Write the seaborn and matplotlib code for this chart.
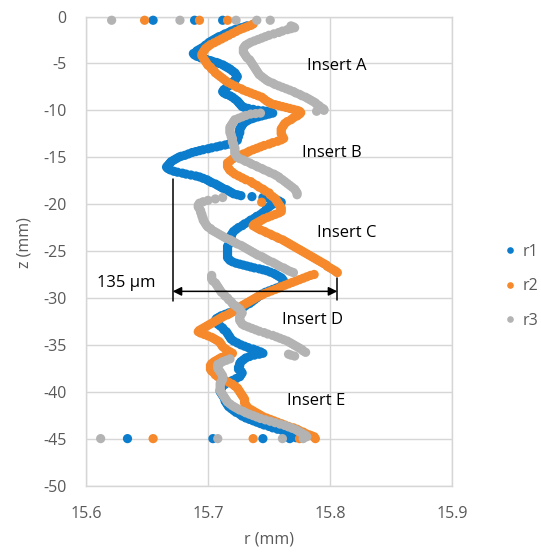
import matplotlib
matplotlib.use("Agg")
import matplotlib.pyplot as plt
import pandas as pd
import seaborn as sns

# Measured radius profiles along the bore: (z in mm, r in mm)
r1_profile = [
    (-0.4, 15.655), (-0.4, 15.689), (-0.4, 15.712),
    (-1.0, 15.732), (-1.1, 15.730), (-1.2, 15.727), (-1.3, 15.724), (-1.4, 15.722),
    (-1.55, 15.719), (-1.7, 15.717), (-1.85, 15.714), (-2.0, 15.712), (-2.15, 15.709),
    (-2.3, 15.707), (-2.45, 15.705), (-2.6, 15.703), (-2.75, 15.701), (-2.9, 15.700),
    (-3.05, 15.698), (-3.2, 15.697), (-3.35, 15.695), (-3.5, 15.693), (-3.65, 15.691),
    (-3.8, 15.690), (-3.95, 15.688), (-4.1, 15.689), (-4.25, 15.691), (-4.4, 15.694),
    (-4.5, 15.697), (-4.6, 15.699), (-4.7, 15.702), (-4.8, 15.704), (-4.9, 15.707),
    (-5.0, 15.709), (-5.15, 15.712), (-5.3, 15.714), (-5.45, 15.716), (-5.6, 15.718),
    (-5.8, 15.720), (-6.0, 15.722), (-6.2, 15.723), (-6.4, 15.724), (-6.6, 15.723),
    (-6.8, 15.722), (-7.0, 15.720), (-7.2, 15.719), (-7.4, 15.717), (-7.6, 15.715),
    (-7.8, 15.713), (-8.0, 15.712), (-8.15, 15.713), (-8.3, 15.715), (-8.45, 15.718),
    (-8.6, 15.720), (-8.8, 15.722), (-9.0, 15.724), (-9.15, 15.725), (-9.3, 15.726),
    (-9.45, 15.727), (-9.6, 15.728), (-9.7, 15.730), (-9.8, 15.733), (-9.9, 15.737),
    (-10.0, 15.741), (-10.05, 15.745), (-10.1, 15.748), (-10.2, 15.751), (-10.3, 15.753),
    (-10.4, 15.750), (-10.5, 15.747), (-10.6, 15.744), (-10.7, 15.741), (-10.8, 15.738),
    (-10.9, 15.736), (-11.05, 15.733), (-11.2, 15.731), (-11.4, 15.729), (-11.6, 15.728),
    (-11.8, 15.727), (-12.0, 15.726), (-12.2, 15.726), (-12.4, 15.726), (-12.6, 15.725),
    (-12.8, 15.725), (-13.0, 15.724), (-13.2, 15.724), (-13.35, 15.722), (-13.5, 15.720),
    (-13.6, 15.717), (-13.7, 15.714), (-13.8, 15.710), (-13.9, 15.707), (-14.0, 15.703),
    (-14.1, 15.700), (-14.2, 15.696), (-14.3, 15.693), (-14.4, 15.690), (-14.5, 15.687),
    (-14.65, 15.684), (-14.8, 15.681), (-14.9, 15.678), (-15.0, 15.676), (-15.15, 15.674),
    (-15.3, 15.672), (-15.45, 15.670), (-15.6, 15.669), (-15.75, 15.668), (-15.9, 15.667),
    (-16.05, 15.666), (-16.2, 15.667), (-16.35, 15.669), (-16.5, 15.672), (-16.6, 15.675),
    (-16.7, 15.679), (-16.8, 15.682), (-16.9, 15.686), (-17.0, 15.690), (-17.1, 15.693),
    (-17.25, 15.696), (-17.4, 15.699), (-17.55, 15.701), (-17.7, 15.703), (-17.85, 15.706),
    (-18.0, 15.708), (-18.15, 15.710), (-18.3, 15.712), (-18.45, 15.715), (-18.6, 15.717),
    (-18.75, 15.719), (-18.9, 15.721), (-19.0, 15.724), (-19.1, 15.727), (-19.2, 15.736),
    (-19.3, 15.745), (-19.4, 15.750), (-19.5, 15.755), (-19.65, 15.758), (-19.8, 15.760),
    (-19.95, 15.756), (-20.1, 15.752), (-20.3, 15.750), (-20.5, 15.748), (-20.7, 15.747),
    (-20.9, 15.745), (-21.1, 15.743), (-21.3, 15.740), (-21.5, 15.738), (-21.7, 15.735),
    (-21.9, 15.733), (-22.1, 15.730), (-22.3, 15.728), (-22.5, 15.725), (-22.7, 15.723),
    (-22.9, 15.721), (-23.1, 15.720), (-23.3, 15.719), (-23.5, 15.719), (-23.7, 15.718),
    (-23.9, 15.718), (-24.1, 15.718), (-24.3, 15.717), (-24.5, 15.716), (-24.7, 15.716),
    (-24.9, 15.716), (-25.1, 15.716), (-25.3, 15.716), (-25.5, 15.716), (-25.7, 15.716),
    (-25.85, 15.717), (-26.0, 15.718), (-26.15, 15.720), (-26.3, 15.723), (-26.4, 15.726),
    (-26.5, 15.729), (-26.6, 15.732), (-26.7, 15.735), (-26.8, 15.738), (-26.9, 15.742),
    (-27.0, 15.745), (-27.1, 15.748), (-27.25, 15.751), (-27.4, 15.754), (-27.55, 15.756),
    (-27.7, 15.758), (-27.85, 15.760), (-28.0, 15.761), (-28.2, 15.762), (-28.4, 15.763),
    (-28.6, 15.761), (-28.8, 15.759), (-28.95, 15.756), (-29.1, 15.753), (-29.25, 15.750),
    (-29.4, 15.747), (-29.6, 15.744), (-29.8, 15.742), (-30.0, 15.740), (-30.2, 15.738),
    (-30.4, 15.736), (-30.6, 15.734), (-30.8, 15.731), (-31.0, 15.729), (-31.15, 15.726),
    (-31.3, 15.723), (-31.45, 15.720), (-31.6, 15.717), (-31.75, 15.714), (-31.9, 15.711),
    (-32.05, 15.709), (-32.2, 15.707), (-32.4, 15.706), (-32.6, 15.706), (-32.8, 15.708),
    (-33.0, 15.710), (-33.2, 15.712), (-33.4, 15.713), (-33.6, 15.715), (-33.8, 15.716),
    (-34.0, 15.717), (-34.2, 15.718), (-34.4, 15.719), (-34.6, 15.721), (-34.8, 15.724),
    (-35.0, 15.727), (-35.15, 15.730), (-35.3, 15.733), (-35.45, 15.737), (-35.6, 15.740),
    (-35.75, 15.743), (-35.9, 15.745), (-36.0, 15.742), (-36.1, 15.738), (-36.25, 15.734),
    (-36.4, 15.731), (-36.6, 15.729), (-36.8, 15.727), (-37.0, 15.726), (-37.2, 15.726),
    (-37.4, 15.725), (-37.6, 15.725), (-37.8, 15.727), (-38.0, 15.728), (-38.2, 15.727),
    (-38.4, 15.726), (-38.6, 15.723), (-38.8, 15.720), (-39.0, 15.717), (-39.2, 15.714),
    (-39.4, 15.712), (-39.6, 15.711), (-39.8, 15.710), (-40.0, 15.710), (-40.2, 15.711),
    (-40.4, 15.712), (-40.6, 15.713), (-40.8, 15.714), (-41.0, 15.714), (-41.2, 15.715),
    (-41.4, 15.716), (-41.6, 15.717), (-41.8, 15.719), (-42.0, 15.721), (-42.2, 15.723),
    (-42.4, 15.726), (-42.6, 15.728), (-42.8, 15.731), (-42.95, 15.734), (-43.1, 15.737),
    (-43.25, 15.740), (-43.4, 15.743), (-43.55, 15.746), (-43.7, 15.750), (-43.85, 15.753),
    (-44.0, 15.757), (-44.15, 15.761), (-44.3, 15.764), (-44.45, 15.767), (-44.6, 15.769),
    (-44.75, 15.771), (-44.9, 15.772),
    (-45.0, 15.634), (-45.0, 15.704), (-45.0, 15.745), (-45.0, 15.767),
]

r2_profile = [
    (-0.4, 15.648), (-0.4, 15.693), (-0.4, 15.716),
    (-0.8, 15.737), (-0.95, 15.735), (-1.1, 15.732), (-1.25, 15.729), (-1.4, 15.726),
    (-1.6, 15.723), (-1.8, 15.720), (-2.0, 15.717), (-2.2, 15.714), (-2.4, 15.711),
    (-2.6, 15.708), (-2.8, 15.705), (-3.0, 15.702), (-3.2, 15.700), (-3.4, 15.698),
    (-3.6, 15.697), (-3.8, 15.696), (-4.0, 15.695), (-4.2, 15.695), (-4.4, 15.696),
    (-4.6, 15.697), (-4.8, 15.698), (-5.0, 15.699), (-5.2, 15.700), (-5.4, 15.702),
    (-5.6, 15.703), (-5.8, 15.705), (-6.0, 15.706), (-6.2, 15.708), (-6.4, 15.710),
    (-6.6, 15.712), (-6.8, 15.714), (-7.0, 15.716), (-7.2, 15.719), (-7.4, 15.722),
    (-7.55, 15.724), (-7.7, 15.727), (-7.85, 15.729), (-8.0, 15.732), (-8.15, 15.735),
    (-8.3, 15.738), (-8.45, 15.741), (-8.6, 15.744), (-8.8, 15.746), (-9.0, 15.748),
    (-9.15, 15.750), (-9.3, 15.752), (-9.4, 15.755), (-9.5, 15.758), (-9.6, 15.761),
    (-9.7, 15.764), (-9.8, 15.767), (-9.9, 15.770), (-10.0, 15.773), (-10.1, 15.775),
    (-10.25, 15.776), (-10.4, 15.775), (-10.6, 15.773), (-10.8, 15.770), (-11.0, 15.768),
    (-11.2, 15.765), (-11.4, 15.763), (-11.6, 15.762), (-11.8, 15.761), (-12.0, 15.760),
    (-12.25, 15.760), (-12.5, 15.760), (-12.75, 15.761), (-13.0, 15.762), (-13.15, 15.760),
    (-13.3, 15.757), (-13.45, 15.753), (-13.6, 15.750), (-13.75, 15.746), (-13.9, 15.743),
    (-14.05, 15.740), (-14.2, 15.737), (-14.35, 15.734), (-14.5, 15.732), (-14.65, 15.729),
    (-14.8, 15.726), (-15.0, 15.723), (-15.2, 15.720), (-15.4, 15.718), (-15.6, 15.716),
    (-15.8, 15.716), (-16.0, 15.716), (-16.2, 15.717), (-16.4, 15.718), (-16.6, 15.720),
    (-16.8, 15.722), (-17.0, 15.725), (-17.2, 15.728), (-17.4, 15.731), (-17.6, 15.735),
    (-17.8, 15.737), (-18.0, 15.740), (-18.2, 15.742), (-18.4, 15.745), (-18.6, 15.747),
    (-18.8, 15.750), (-19.0, 15.751), (-19.2, 15.753), (-19.4, 15.755), (-19.6, 15.756),
    (-19.8, 15.744), (-19.8, 15.757), (-20.0, 15.758), (-20.2, 15.759), (-20.4, 15.760),
    (-20.6, 15.760), (-20.8, 15.760), (-20.95, 15.758), (-21.1, 15.755), (-21.25, 15.752),
    (-21.4, 15.749), (-21.55, 15.746), (-21.7, 15.744), (-21.85, 15.742), (-22.0, 15.740),
    (-22.15, 15.738), (-22.3, 15.737), (-22.45, 15.739), (-22.6, 15.741), (-22.75, 15.743),
    (-22.9, 15.746), (-23.05, 15.748), (-23.2, 15.751), (-23.35, 15.753), (-23.5, 15.756),
    (-23.65, 15.758), (-23.8, 15.761), (-23.95, 15.763), (-24.1, 15.765), (-24.25, 15.767),
    (-24.4, 15.769), (-24.55, 15.771), (-24.7, 15.773), (-24.85, 15.775), (-25.0, 15.777),
    (-25.15, 15.779), (-25.3, 15.781), (-25.45, 15.783), (-25.6, 15.785), (-25.75, 15.787),
    (-25.9, 15.789), (-26.05, 15.791), (-26.2, 15.793), (-26.35, 15.795), (-26.5, 15.797),
    (-26.65, 15.798), (-26.8, 15.800), (-26.95, 15.802), (-27.1, 15.804), (-27.2, 15.805),
    (-27.3, 15.806), (-27.5, 15.787), (-27.6, 15.784), (-27.75, 15.781), (-27.9, 15.778),
    (-28.05, 15.775), (-28.2, 15.772), (-28.35, 15.769), (-28.5, 15.766), (-28.65, 15.763),
    (-28.8, 15.760), (-28.95, 15.758), (-29.1, 15.755), (-29.25, 15.752), (-29.4, 15.749),
    (-29.55, 15.746), (-29.7, 15.744), (-29.85, 15.741), (-30.0, 15.739), (-30.15, 15.737),
    (-30.3, 15.735), (-30.45, 15.733), (-30.6, 15.731), (-30.75, 15.729), (-30.9, 15.727),
    (-31.05, 15.726), (-31.2, 15.724), (-31.35, 15.722), (-31.5, 15.720), (-31.65, 15.718),
    (-31.8, 15.716), (-31.95, 15.713), (-32.1, 15.711), (-32.25, 15.709), (-32.4, 15.707),
    (-32.55, 15.705), (-32.7, 15.703), (-32.85, 15.701), (-33.0, 15.699), (-33.15, 15.697),
    (-33.3, 15.695), (-33.45, 15.693), (-33.6, 15.692), (-33.75, 15.694), (-33.9, 15.697),
    (-34.05, 15.700), (-34.2, 15.703), (-34.35, 15.705), (-34.5, 15.707), (-34.65, 15.709),
    (-34.8, 15.710), (-35.0, 15.711), (-35.2, 15.712), (-35.4, 15.714), (-35.6, 15.716),
    (-35.75, 15.718), (-35.9, 15.720), (-36.05, 15.717), (-36.2, 15.714), (-36.35, 15.711),
    (-36.5, 15.709), (-36.65, 15.707), (-36.8, 15.705), (-37.0, 15.703), (-37.2, 15.702),
    (-37.4, 15.702), (-37.6, 15.702), (-37.8, 15.703), (-38.0, 15.705), (-38.2, 15.706),
    (-38.4, 15.708), (-38.6, 15.711), (-38.8, 15.714), (-39.0, 15.717), (-39.2, 15.720),
    (-39.4, 15.722), (-39.6, 15.724), (-39.8, 15.725), (-40.0, 15.726), (-40.2, 15.727),
    (-40.4, 15.728), (-40.6, 15.729), (-40.8, 15.730), (-41.0, 15.730), (-41.2, 15.730),
    (-41.4, 15.731), (-41.6, 15.732), (-41.75, 15.733), (-41.9, 15.735), (-42.05, 15.737),
    (-42.2, 15.739), (-42.35, 15.741), (-42.5, 15.743), (-42.65, 15.745), (-42.8, 15.748),
    (-42.95, 15.751), (-43.1, 15.754), (-43.25, 15.757), (-43.4, 15.760), (-43.55, 15.763),
    (-43.7, 15.766), (-43.85, 15.770), (-44.0, 15.773), (-44.15, 15.775), (-44.3, 15.778),
    (-44.45, 15.780), (-44.6, 15.783), (-44.7, 15.785), (-44.8, 15.787),
    (-45.0, 15.655), (-45.0, 15.737), (-45.0, 15.775), (-45.0, 15.788),
]

r3_profile = [
    (-0.4, 15.621), (-0.4, 15.677), (-0.4, 15.723), (-0.4, 15.740), (-0.4, 15.751),
    (-1.0, 15.768), (-1.1, 15.770), (-1.2, 15.771), (-1.3, 15.768), (-1.4, 15.765),
    (-1.55, 15.761), (-1.7, 15.758), (-1.85, 15.754), (-2.0, 15.750), (-2.15, 15.747),
    (-2.3, 15.744), (-2.45, 15.741), (-2.6, 15.738), (-2.75, 15.735), (-2.9, 15.733),
    (-3.05, 15.731), (-3.2, 15.730), (-3.4, 15.729), (-3.6, 15.729), (-3.8, 15.729),
    (-4.0, 15.730), (-4.2, 15.731), (-4.4, 15.732), (-4.6, 15.734), (-4.8, 15.735),
    (-5.0, 15.736), (-5.2, 15.737), (-5.4, 15.738), (-5.6, 15.739), (-5.8, 15.740),
    (-6.0, 15.741), (-6.2, 15.742), (-6.4, 15.744), (-6.6, 15.746), (-6.8, 15.748),
    (-6.95, 15.750), (-7.1, 15.753), (-7.25, 15.755), (-7.4, 15.758), (-7.55, 15.761),
    (-7.7, 15.764), (-7.85, 15.767), (-8.0, 15.770), (-8.15, 15.772), (-8.3, 15.775),
    (-8.45, 15.777), (-8.6, 15.780), (-8.75, 15.782), (-8.9, 15.784), (-9.05, 15.786),
    (-9.2, 15.788), (-9.35, 15.789), (-9.5, 15.791), (-9.65, 15.792), (-9.8, 15.794),
    (-9.9, 15.795), (-10.0, 15.795), (-10.1, 15.789), (-10.3, 15.743), (-10.35, 15.739),
    (-10.4, 15.735), (-10.55, 15.731), (-10.7, 15.728), (-10.85, 15.725), (-11.0, 15.722),
    (-11.2, 15.721), (-11.4, 15.720), (-11.6, 15.719), (-11.8, 15.718), (-12.0, 15.718),
    (-12.2, 15.718), (-12.4, 15.718), (-12.6, 15.719), (-12.8, 15.719), (-13.0, 15.720),
    (-13.2, 15.720), (-13.4, 15.720), (-13.6, 15.721), (-13.8, 15.721), (-14.0, 15.722),
    (-14.2, 15.722), (-14.4, 15.722), (-14.6, 15.722), (-14.8, 15.723), (-15.0, 15.724),
    (-15.15, 15.726), (-15.3, 15.729), (-15.45, 15.731), (-15.6, 15.734), (-15.75, 15.736),
    (-15.9, 15.739), (-16.05, 15.741), (-16.2, 15.744), (-16.35, 15.746), (-16.5, 15.749),
    (-16.65, 15.751), (-16.8, 15.754), (-16.95, 15.756), (-17.1, 15.758), (-17.25, 15.759),
    (-17.4, 15.761), (-17.6, 15.763), (-17.8, 15.765), (-18.0, 15.767), (-18.2, 15.769),
    (-18.4, 15.771), (-18.6, 15.772), (-18.8, 15.773), (-19.0, 15.773), (-19.3, 15.712),
    (-19.45, 15.706), (-19.6, 15.700), (-19.75, 15.696), (-19.9, 15.693), (-20.1, 15.692),
    (-20.3, 15.692), (-20.5, 15.693), (-20.7, 15.694), (-20.9, 15.694), (-21.1, 15.695),
    (-21.3, 15.695), (-21.5, 15.696), (-21.7, 15.696), (-21.9, 15.697), (-22.1, 15.698),
    (-22.3, 15.699), (-22.45, 15.700), (-22.6, 15.702), (-22.75, 15.703), (-22.9, 15.705),
    (-23.05, 15.707), (-23.2, 15.709), (-23.35, 15.711), (-23.5, 15.713), (-23.65, 15.715),
    (-23.8, 15.718), (-23.95, 15.720), (-24.1, 15.722), (-24.25, 15.724), (-24.4, 15.727),
    (-24.55, 15.729), (-24.7, 15.731), (-24.85, 15.733), (-25.0, 15.735), (-25.15, 15.737),
    (-25.3, 15.739), (-25.45, 15.741), (-25.6, 15.744), (-25.75, 15.746), (-25.9, 15.748),
    (-26.05, 15.750), (-26.2, 15.753), (-26.35, 15.755), (-26.5, 15.757), (-26.65, 15.759),
    (-26.8, 15.762), (-26.95, 15.764), (-27.1, 15.766), (-27.2, 15.768), (-27.3, 15.770),
    (-27.6, 15.703), (-27.8, 15.703), (-28.0, 15.703), (-28.2, 15.704), (-28.4, 15.706),
    (-28.6, 15.707), (-28.8, 15.708), (-29.0, 15.709), (-29.2, 15.710), (-29.4, 15.711),
    (-29.6, 15.713), (-29.8, 15.714), (-30.0, 15.716), (-30.2, 15.717), (-30.4, 15.719),
    (-30.6, 15.720), (-30.8, 15.722), (-31.0, 15.724), (-31.2, 15.726), (-31.4, 15.727),
    (-31.6, 15.728), (-31.8, 15.727), (-32.0, 15.726), (-32.2, 15.726), (-32.4, 15.726),
    (-32.6, 15.727), (-32.8, 15.728), (-32.95, 15.730), (-33.1, 15.733), (-33.25, 15.736),
    (-33.4, 15.739), (-33.55, 15.742), (-33.7, 15.746), (-33.85, 15.749), (-34.0, 15.753),
    (-34.15, 15.756), (-34.3, 15.759), (-34.45, 15.762), (-34.6, 15.765), (-34.75, 15.767),
    (-34.9, 15.769), (-35.05, 15.771), (-35.2, 15.773), (-35.35, 15.775), (-35.5, 15.777),
    (-35.65, 15.778), (-35.8, 15.780), (-36.0, 15.766), (-36.1, 15.768), (-36.2, 15.771),
    (-36.5, 15.718), (-36.65, 15.715), (-36.8, 15.712), (-36.95, 15.710), (-37.1, 15.708),
    (-37.3, 15.708), (-37.5, 15.708), (-37.7, 15.709), (-37.9, 15.710), (-38.1, 15.711),
    (-38.3, 15.712), (-38.5, 15.712), (-38.7, 15.712), (-38.9, 15.711), (-39.1, 15.710),
    (-39.3, 15.710), (-39.5, 15.710), (-39.7, 15.710), (-39.9, 15.710), (-40.1, 15.711),
    (-40.3, 15.712), (-40.5, 15.713), (-40.7, 15.714), (-40.9, 15.715), (-41.1, 15.716),
    (-41.3, 15.718), (-41.5, 15.720), (-41.65, 15.722), (-41.8, 15.724), (-41.95, 15.726),
    (-42.1, 15.729), (-42.25, 15.731), (-42.4, 15.734), (-42.55, 15.737), (-42.7, 15.740),
    (-42.85, 15.743), (-43.0, 15.747), (-43.15, 15.751), (-43.3, 15.755), (-43.45, 15.759),
    (-43.6, 15.763), (-43.75, 15.766), (-43.9, 15.769), (-44.05, 15.772), (-44.2, 15.774),
    (-44.35, 15.776), (-44.5, 15.778), (-44.65, 15.780), (-44.8, 15.781),
    (-45.0, 15.612), (-45.0, 15.708), (-45.0, 15.761), (-45.0, 15.778),
]

series_names = ["r1", "r2", "r3"]
series_colors = ["#0b7dcc", "#f5892b", "#b3b3b3"]

insert_labels = ["Insert A", "Insert B", "Insert C", "Insert D", "Insert E"]
insert_label_r = [15.781, 15.777, 15.789, 15.761, 15.765]
insert_label_z = [-5.3, -14.5, -23.1, -32.4, -41.0]

# runout dimension: start radius and width in micrometres
gap_start_r = 15.671
gap_um = 135

x_ticks = [15.6, 15.7, 15.8, 15.9]
x_tick_labels = ["15.6", "15.7", "15.8", "15.9"]
y_ticks = [0, -5, -10, -15, -20, -25, -30, -35, -40, -45, -50]
y_tick_labels = ["0", "-5", "-10", "-15", "-20", "-25", "-30", "-35", "-40", "-45", "-50"]

# long-form table for seaborn
frames = []
for name, prof in zip(series_names, [r1_profile, r2_profile, r3_profile]):
    df = pd.DataFrame(prof, columns=["z", "r"])
    df["series"] = name
    frames.append(df)
data = pd.concat(frames, ignore_index=True)

sns.set_style("white")
plt.rcParams["font.family"] = ["Open Sans", "DejaVu Sans"]
plt.rcParams["axes.unicode_minus"] = False

fig = plt.figure(figsize=(5.41, 5.54), dpi=100)
ax = fig.add_axes([0.159, 0.1236, 0.6765, 0.8466])

grid_c = "#d6d6d6"
text_c = "#595959"

sns.scatterplot(
    data=data, x="r", y="z", hue="series",
    palette=dict(zip(series_names, series_colors)),
    s=44, linewidth=0, alpha=1.0, ax=ax, clip_on=False, zorder=3,
)

ax.set_xlim(15.6, 15.9)
ax.set_ylim(-50, 0)
ax.set_xticks(x_ticks)
ax.set_xticklabels(x_tick_labels)
ax.set_yticks(y_ticks)
ax.set_yticklabels(y_tick_labels)
ax.grid(True, color=grid_c, linewidth=1.0, zorder=0)
ax.set_axisbelow(True)
for sp in ax.spines.values():
    sp.set_color(grid_c)
    sp.set_linewidth(1.0)
ax.tick_params(axis="both", length=0, labelsize=11.5, labelcolor=text_c)
ax.tick_params(axis="x", pad=15)
ax.tick_params(axis="y", pad=14)

ax.set_xlabel("r (mm)", fontsize=11.5, color=text_c)
ax.set_ylabel("z (mm)", fontsize=11.5, color=text_c)
ax.xaxis.set_label_coords(0.5, -0.098)
ax.yaxis.set_label_coords(-0.145, 0.517)

for lab, rx, zy in zip(insert_labels, insert_label_r, insert_label_z):
    ax.text(rx, zy, lab, fontsize=12, color="black", ha="left", va="center", zorder=5)

# dimension arrow for the radial runout
gap_end_r = gap_start_r + gap_um / 1000.0
ax.annotate("", xy=(gap_end_r, -29.3), xytext=(gap_start_r, -29.3),
            arrowprops=dict(arrowstyle="<|-|>", color="black", lw=1.1,
                            mutation_scale=13, shrinkA=0, shrinkB=0), zorder=6)
ax.plot([gap_start_r, gap_start_r], [-17.3, -30.3], color="black", lw=1.1, zorder=6)
ax.plot([gap_end_r, gap_end_r], [-27.9, -30.2], color="black", lw=1.1, zorder=6)
ax.text(15.609, -28.4, f"{gap_um} µm", fontsize=12, color="black",
        ha="left", va="center", zorder=6)

sns.move_legend(ax, "center left", bbox_to_anchor=(1.124, 0.425), frameon=False,
                title=None, markerscale=0.72, handlelength=0.6, handletextpad=0.45,
                labelspacing=1.15, borderpad=0, fontsize=11.5)
for t in ax.get_legend().get_texts():
    t.set_color(text_c)

fig.savefig("out.png", dpi=100)
